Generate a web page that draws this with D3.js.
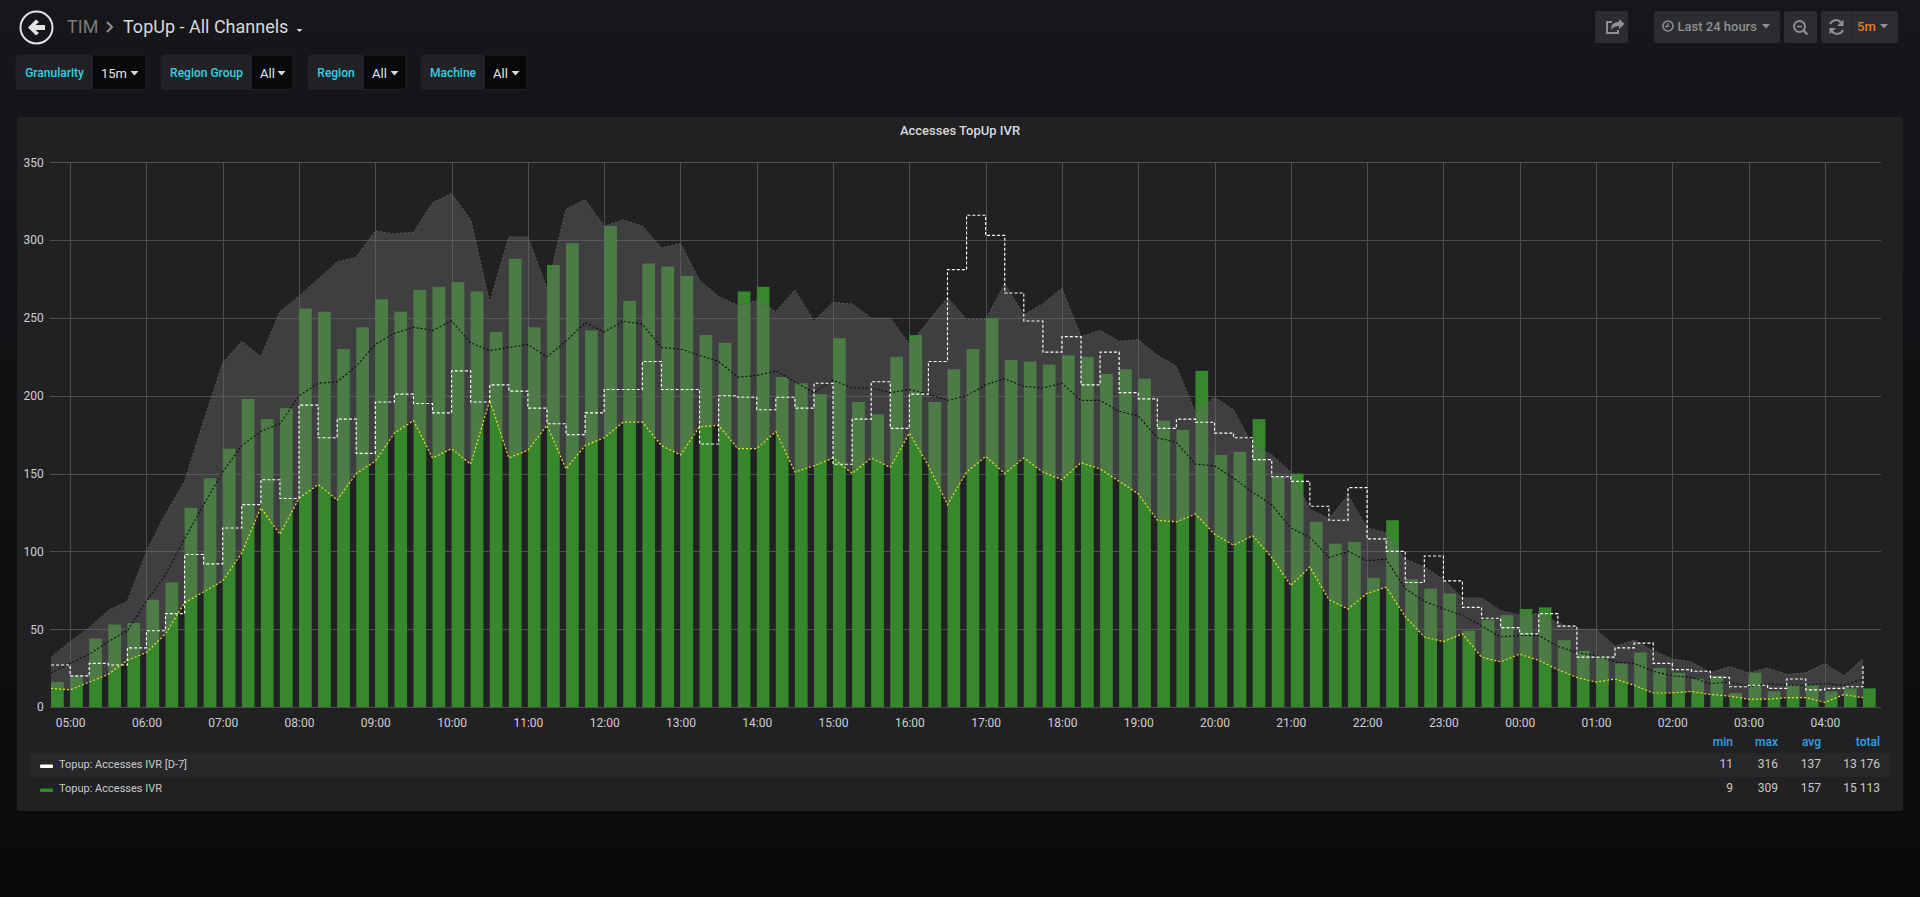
<!DOCTYPE html>
<html>
<head>
<meta charset="utf-8">
<title>TopUp - All Channels</title>
<script src="https://cdn.jsdelivr.net/npm/d3@7"></script>
<style>
  html, body { margin: 0; padding: 0; width: 1920px; height: 897px; overflow: hidden; }
  body { background: linear-gradient(#16171a, #0a0a0c); }
  svg { display: block; font-family: Roboto, "Liberation Sans", sans-serif; }
  .axis path, .axis line { display: none; }
  .axis text { fill: #cfcfd0; font-size: 12px; font-family: Roboto, sans-serif; }
  .grid line { stroke: #4e4e50; stroke-width: 1; shape-rendering: crispEdges; }
</style>
</head>
<body>
<div id="chart"></div>
<script>
// 15 minute buckets, first bucket at 04:45
const accesses = [16,20,44,53,54,69,80,128,147,166,198,185,192,256,254,230,244,262,254,268,270,273,267,241,288,
  244,284,298,242,309,261,285,283,277,239,234,267,270,212,208,201,237,196,188,225,239,196,217,230,250,
  223,222,220,226,225,214,217,211,184,178,216,162,164,185,148,150,119,105,106,83,120,82,76,73,49,
  56,59,63,64,43,36,32,28,35,25,22,18,20,9,22,10,14,14,10,12,12];
const accessesD7 = [27,20,28,27,38,49,60,98,92,115,130,146,134,194,173,185,163,196,201,195,189,216,196,207,203,
  192,182,175,189,204,204,222,204,204,169,200,199,191,199,192,208,156,185,209,179,201,222,281,316,303,
  266,248,228,238,207,228,202,198,179,185,183,176,173,159,148,145,129,120,141,108,100,80,97,81,64,
  57,51,47,60,52,32,32,38,41,28,24,23,19,13,14,12,18,11,12,13,27];
const bandMin = [12,11,16,21,30,35,47,67,74,81,99,128,111,134,143,133,150,158,176,184,160,166,156,197,160,
  165,181,153,168,173,183,183,168,162,180,181,166,166,177,151,155,160,150,160,154,176,155,130,151,161,
  150,160,151,146,157,153,145,137,120,119,124,111,104,110,96,78,90,69,63,73,77,58,45,42,47,
  32,29,34,30,24,19,16,18,14,9,9,10,8,7,5,5,6,6,3,8,6];
const bandAvg = [22,28,34,42,49,68,85,108,130,151,168,177,182,200,208,209,219,233,240,244,242,248,234,229,231,
  233,225,235,247,241,248,246,231,230,226,222,212,213,216,209,202,210,205,205,202,204,201,197,200,207,
  211,206,205,208,197,197,190,187,173,170,156,155,147,138,130,115,109,96,100,94,95,76,68,63,59,
  52,45,46,46,39,35,33,29,28,23,20,19,15,16,13,15,14,14,15,14,18];
const bandMax = [32,42,51,62,68,100,124,145,184,221,235,225,254,264,275,286,289,306,304,305,324,330,313,260,302,
  302,269,320,326,309,313,309,295,298,274,264,258,261,254,268,248,260,259,250,250,233,248,263,249,249,
  272,252,259,269,238,242,235,236,226,219,189,199,191,168,162,151,127,121,136,115,112,95,90,82,70,
  70,62,59,60,54,50,50,39,43,36,31,29,22,26,22,25,21,22,28,20,31];

const yTicks = [0, 50, 100, 150, 200, 250, 300, 350];

const legendNames = ['Topup: Accesses IVR [D-7]', 'Topup: Accesses IVR'];
const legendColors = ['#ffffff', '#37872d'];
const legendColumns = ['min', 'max', 'avg', 'total'];
const legendMin = ['11', '9'];
const legendMax = ['316', '309'];
const legendAvg = ['137', '157'];
const legendTotal = ['13 176', '15 113'];

const variableLabels = ['Granularity', 'Region Group', 'Region', 'Machine'];
const variableValues = ['15m', 'All', 'All', 'All'];

const width = 1920,
  height = 897,
  plot = { left: 49.8, right: 1880.8, top: 162.3, bottom: 707 };

const svg = d3.select('#chart')
  .append('svg')
    .attr('width', width)
    .attr('height', height);

// Time of a bucket from its position in the arrays
const start = Date.UTC(2020, 0, 1, 4, 45);
const step = 15 * 60 * 1000;
const T = i => new Date(start + i * step);

const xScale = d3.scaleUtc()
  .domain([new Date(start - 60 * 1000), new Date(start - 60 * 1000 + 24 * 3600 * 1000)])
  .range([plot.left, plot.right]);

const yScale = d3.scaleLinear()
  .domain([0, 350])
  .range([plot.bottom, plot.top]);

const X = (d, i) => xScale(T(i));
const Y = d => yScale(d);

// Panel
svg.append('rect')
    .attr('x', 17).attr('y', 117)
    .attr('width', 1886).attr('height', 694)
    .attr('rx', 2)
    .attr('fill', '#212124');

svg.append('text')
    .attr('x', 960).attr('y', 134.5)
    .attr('text-anchor', 'middle')
    .attr('fill', '#d8d9da')
    .attr('font-size', 13)
    .attr('font-weight', 500)
    .text('Accesses TopUp IVR');

// Grid
const hours = xScale.ticks(d3.utcHour.every(1));

svg.append('g')
    .attr('class', 'grid')
  .selectAll('line')
  .data(yTicks)
  .join('line')
    .attr('x1', plot.left)
    .attr('x2', plot.right)
    .attr('y1', d => Math.round(yScale(d)))
    .attr('y2', d => Math.round(yScale(d)));

svg.append('g')
    .attr('class', 'grid')
  .selectAll('line')
  .data(hours)
  .join('line')
    .attr('x1', d => Math.round(xScale(d)))
    .attr('x2', d => Math.round(xScale(d)))
    .attr('y1', plot.top)
    .attr('y2', plot.bottom);

// Axes
svg.append('g')
    .attr('class', 'axis')
    .attr('transform', 'translate(0,' + (plot.bottom + 2) + ')')
    .call(d3.axisBottom(xScale).tickValues(hours).tickFormat(d3.utcFormat('%H:%M')).tickSize(6));

svg.append('g')
    .attr('class', 'axis')
    .attr('transform', 'translate(' + (plot.left - 3) + ',0)')
    .call(d3.axisLeft(yScale).tickValues(yTicks).tickSize(0));

// Bars of the current day
svg.append('g')
  .selectAll('rect')
  .data(accesses)
  .join('rect')
    .attr('x', X)
    .attr('y', Y)
    .attr('width', (d, i) => xScale(new Date(+T(i) + step * 2 / 3)) - xScale(T(i)))
    .attr('height', d => plot.bottom - Y(d))
    .attr('fill', '#37872d');

// Min-max band, goes over the bars
svg.append('path')
    .datum(bandMax)
    .attr('fill', '#6a6a6a')
    .attr('fill-opacity', 0.41)
    .attr('d', d3.area()
      .x(X)
      .y0((d, i) => Y(bandMin[i]))
      .y1(Y)
    );

const line = d3.line().x(X).y(Y);

function dottedLine(values, color, dash, strokeWidth, curve) {
  svg.append('path')
      .datum(values)
      .attr('fill', 'none')
      .attr('stroke', color)
      .attr('stroke-width', strokeWidth)
      .attr('stroke-dasharray', dash)
      .attr('d', curve ? d3.line().x(X).y(Y).curve(curve) : line);
}

dottedLine(bandMax, '#5c5c5e', '2 2', 1);
dottedLine(bandAvg, '#0a0a0b', '2 2', 1.1);
dottedLine(bandMin, '#f2e02e', '2 2', 1.2);
dottedLine(accessesD7, '#ffffff', '3 2', 1.15, d3.curveStepAfter);

// Legend
const legendRow = [764, 788];

svg.append('rect')
    .attr('x', 30).attr('y', 753)
    .attr('width', 1860).attr('height', 24)
    .attr('fill', '#28282b');

const legendRight = [1733, 1778, 1821, 1880];
const legendCells = [legendMin, legendMax, legendAvg, legendTotal];

legendColumns.forEach((name, c) => {
  svg.append('text')
      .attr('x', legendRight[c]).attr('y', 746)
      .attr('text-anchor', 'end')
      .attr('fill', '#33a2e5')
      .attr('font-size', 12)
      .attr('font-weight', 500)
      .text(name);

  svg.append('g')
    .selectAll('text')
    .data(legendCells[c])
    .join('text')
      .attr('x', legendRight[c])
      .attr('y', (d, i) => legendRow[i] + 4)
      .attr('text-anchor', 'end')
      .attr('fill', '#c8c8c9')
      .attr('font-size', 12)
      .text(d => d);
});

svg.append('g')
  .selectAll('rect')
  .data(legendNames)
  .join('rect')
    .attr('x', 40)
    .attr('y', (d, i) => legendRow[i] + 0.5)
    .attr('width', 13)
    .attr('height', 3.5)
    .attr('rx', 1)
    .attr('fill', (d, i) => legendColors[i]);

svg.append('g')
  .selectAll('text')
  .data(legendNames)
  .join('text')
    .attr('x', 59)
    .attr('y', (d, i) => legendRow[i] + 3.5)
    .attr('fill', '#c8c8c9')
    .attr('font-size', 11)
    .text(d => d);

// Dashboard header
const header = svg.append('g');

header.append('circle')
    .attr('cx', 36.5).attr('cy', 27.5).attr('r', 16)
    .attr('fill', 'none')
    .attr('stroke', '#e3e3e3')
    .attr('stroke-width', 2);

header.append('path')
    .attr('d', 'M28 27.5 L36 19.5 L39 22 L35.5 25 L45 25 L45 30 L35.5 30 L39 33 L36 35.5 Z')
    .attr('fill', '#e3e3e3');

header.append('text')
    .attr('x', 67).attr('y', 33)
    .attr('fill', '#7b7b7d')
    .attr('font-size', 18)
    .text('TIM');

header.append('path')
    .attr('d', 'M107 22 L112 27 L107 32')
    .attr('fill', 'none')
    .attr('stroke', '#8e8e8e')
    .attr('stroke-width', 2);

header.append('text')
    .attr('x', 123).attr('y', 33)
    .attr('fill', '#d8d9da')
    .attr('font-size', 18)
    .text('TopUp - All Channels');

header.append('path')
    .attr('d', 'M296.5 29 L302.5 29 L299.5 32 Z')
    .attr('fill', '#d8d9da');

// Template variables
const variableBoxes = [
  { x: 16, split: 93, end: 146 },
  { x: 161, split: 252, end: 293 },
  { x: 308, split: 364, end: 406 },
  { x: 421, split: 485, end: 527 }
];

function caret(g, x, y, w, color) {
  g.append('path')
      .attr('d', 'M' + x + ' ' + y + ' h' + w + ' l' + (-w / 2) + ' ' + (w * 0.55) + ' Z')
      .attr('fill', color);
}

variableBoxes.forEach((b, i) => {
  const g = header.append('g');
  g.append('rect')
      .attr('x', b.x).attr('y', 55)
      .attr('width', b.end - b.x).attr('height', 34.5)
      .attr('rx', 3)
      .attr('fill', '#09090b')
      .attr('stroke', '#1f2023');
  g.append('rect')
      .attr('x', b.x).attr('y', 55)
      .attr('width', b.split - b.x).attr('height', 34.5)
      .attr('rx', 3)
      .attr('fill', '#212226');
  g.append('text')
      .attr('x', (b.x + b.split) / 2).attr('y', 77)
      .attr('text-anchor', 'middle')
      .attr('fill', '#33d0e2')
      .attr('font-size', 12)
      .attr('font-weight', 500)
      .text(variableLabels[i]);
  g.append('text')
      .attr('x', b.split + 8).attr('y', 77.5)
      .attr('fill', '#e3e4e5')
      .attr('font-size', 13)
      .text(variableValues[i]);
  caret(g, b.end - 15.5, 71, 8, '#d8d9da');
});

// Toolbar
const toolbar = svg.append('g');

[[1595, 33], [1654, 126], [1784, 33], [1821, 77]].forEach(([x, w]) => {
  toolbar.append('rect')
      .attr('x', x).attr('y', 11)
      .attr('width', w).attr('height', 32)
      .attr('rx', 2)
      .attr('fill', '#2c2d30');
});

const iconStroke = { fill: 'none', stroke: '#8e8f92', 'stroke-width': 2 };
function icon(d, strokeWidth) {
  const p = toolbar.append('path').attr('d', d);
  Object.keys(iconStroke).forEach(k => p.attr(k, iconStroke[k]));
  if (strokeWidth) p.attr('stroke-width', strokeWidth);
}

// share
icon('M1612 22 h-5 v11 h11 v-3');
toolbar.append('path')
    .attr('d', 'M1611 30 c0 -6 3 -8 8 -8 v-3 l5.5 5 l-5.5 5 v-3 c-3 0 -6 1 -8 4 Z')
    .attr('fill', '#8e8f92');

// clock
toolbar.append('circle')
    .attr('cx', 1668).attr('cy', 26).attr('r', 5)
    .attr('fill', 'none').attr('stroke', '#8e8f92').attr('stroke-width', 1.6);
icon('M1668 23 v3.5 h-3', 1.4);

toolbar.append('text')
    .attr('x', 1677.5).attr('y', 31)
    .attr('fill', '#8e8f92')
    .attr('font-size', 13)
    .attr('font-weight', 500)
    .text('Last 24 hours');
caret(toolbar, 1762, 24, 8, '#8e8f92');

// zoom out
toolbar.append('circle')
    .attr('cx', 1799.5).attr('cy', 26.5).attr('r', 5.5)
    .attr('fill', 'none').attr('stroke', '#8e8f92').attr('stroke-width', 2);
icon('M1797 26.5 h5', 1.6);
icon('M1803.5 30.5 l4 4', 2.4);

// refresh
icon('M1830 24 a6.5 6.5 0 0 1 11 -1.5');
icon('M1843 30 a6.5 6.5 0 0 1 -11 1.5');
toolbar.append('path').attr('d', 'M1843.5 19.5 v6.5 h-6.5 Z').attr('fill', '#8e8f92');
toolbar.append('path').attr('d', 'M1829.5 34.5 v-6.5 h6.5 Z').attr('fill', '#8e8f92');

toolbar.append('line')
    .attr('x1', 1851.5).attr('x2', 1851.5)
    .attr('y1', 11).attr('y2', 43)
    .attr('stroke', '#232427');

toolbar.append('text')
    .attr('x', 1857).attr('y', 31)
    .attr('fill', '#eb7b18')
    .attr('font-size', 13)
    .attr('font-weight', 500)
    .text('5m');
caret(toolbar, 1880, 24, 8, '#8e8f92');
</script>
</body>
</html>
